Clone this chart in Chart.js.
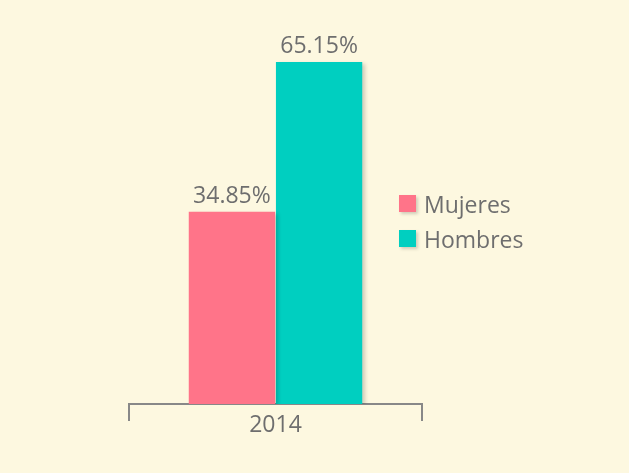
<!DOCTYPE html>
<html>
<head>
<meta charset="utf-8">
<script src="https://cdn.jsdelivr.net/npm/chart.js@4/dist/chart.umd.min.js"></script>
<style>
    body { margin: 0; background: #FDF8E0; }
    #wrap { width: 629px; height: 473px; }
</style>
</head>
<body>
<div id="wrap"><canvas id="chart" width="629" height="473"></canvas></div>
<script>
// datos
const years = ['2014'];
const seriesNames = ['Mujeres', 'Hombres'];
const mujeres = [34.85];
const hombres = [65.15];
const colores = ['#FF7489', '#00CFC0'];

const textColor = '#6E6E6E';
const fontFamily = '"Open Sans", sans-serif';

// sombra debajo de las barras + etiquetas de valor
const barExtras = {
    id: 'barExtras',
    beforeDatasetsDraw(chart) {
        const ctx = chart.ctx;
        ctx.save();
        ctx.shadowColor = 'rgba(0,0,0,0.18)';
        ctx.shadowOffsetX = 3;
        ctx.shadowOffsetY = 2;
        ctx.shadowBlur = 4;
    },
    afterDatasetsDraw(chart) {
        const ctx = chart.ctx;
        ctx.restore();
        ctx.save();
        ctx.font = '23px ' + fontFamily;
        ctx.fillStyle = textColor;
        ctx.textAlign = 'center';
        ctx.textBaseline = 'alphabetic';
        chart.data.datasets.forEach(function (ds, i) {
            chart.getDatasetMeta(i).data.forEach(function (bar, j) {
                ctx.fillText(ds.data[j].toFixed(2) + '%', bar.x, bar.y - 9);
            });
        });
        ctx.restore();
    }
};

// leyenda a la derecha
const sideLegend = {
    id: 'sideLegend',
    afterDraw(chart) {
        const ctx = chart.ctx;
        ctx.save();
        ctx.font = '23px ' + fontFamily;
        ctx.textBaseline = 'middle';
        chart.data.datasets.forEach(function (ds, i) {
            let y = 203 + i * 35;
            ctx.save();
            ctx.shadowColor = 'rgba(0,0,0,0.18)';
            ctx.shadowOffsetX = 2;
            ctx.shadowOffsetY = 2;
            ctx.shadowBlur = 3;
            ctx.fillStyle = ds.backgroundColor;
            ctx.fillRect(399, y - 8, 17, 17);
            ctx.restore();
            ctx.fillStyle = textColor;
            ctx.fillText(ds.label, 424, y + 3);
        });
        ctx.restore();
    }
};

let ctx = document.getElementById('chart');

new Chart(ctx, {
    type: 'bar',
    data: {
        labels: years,
        datasets: [
            { label: seriesNames[0], data: mujeres, backgroundColor: colores[0], base: -4 },
            { label: seriesNames[1], data: hombres, backgroundColor: colores[1], base: -4 }
        ]
    },
    options: {
        responsive: false,
        animation: false,
        layout: { padding: { top: 38, left: 129, right: 207, bottom: 39 } },
        categoryPercentage: 0.595,
        barPercentage: 0.99,
        plugins: {
            legend: { display: false },
            tooltip: { enabled: false }
        },
        scales: {
            x: {
                grid: {
                    drawOnChartArea: false,
                    tickLength: 17,
                    color: '#888',
                    lineWidth: 2
                },
                border: { display: true, color: '#888', width: 2 },
                ticks: {
                    color: textColor,
                    font: { family: fontFamily, size: 23 },
                    padding: -9
                },
                afterFit: function (s) { s.height = 30; }
            },
            y: {
                display: false,
                min: -4,
                max: 70
            }
        }
    },
    plugins: [barExtras, sideLegend]
});
</script>
</body>
</html>
